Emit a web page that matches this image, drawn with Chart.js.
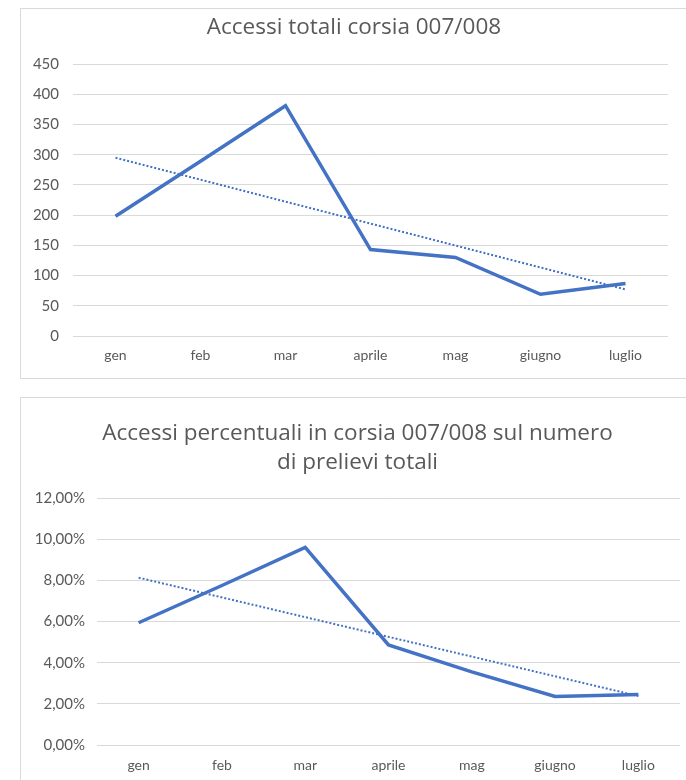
<!DOCTYPE html>
<html>
<head>
<meta charset="utf-8">
<script src="https://cdn.jsdelivr.net/npm/chart.js@4.4.1/dist/chart.umd.min.js"></script>
<style>
    body { margin: 0; background: #fff; width: 686px; height: 780px; overflow: hidden; position: relative; }
    .box { position: absolute; left: 20px; width: 700px; border: 1px solid #d9d9d9; border-right: none; background: #fff; }
    #box1 { top: 8px; height: 369px; }
    #box2 { top: 397px; height: 400px; }
    canvas { position: absolute; left: 0; top: 0; }
</style>
</head>
<body>
<div class="box" id="box1"><canvas id="chart1" width="666" height="369"></canvas></div>
<div class="box" id="box2"><canvas id="chart2" width="673" height="382"></canvas></div>
<script>
// months
const mesi = ['gen', 'feb', 'mar', 'aprile', 'mag', 'giugno', 'luglio'];

// accessi totali corsia 007/008
const accessiTotali = [198, 289, 381, 143, 130, 69, 87];
const trendTotali = [295, null, null, null, null, null, 77];

// accessi percentuali sul numero di prelievi totali (%)
const accessiPerc = [5.94, 7.75, 9.6, 4.86, 3.55, 2.36, 2.45];
const trendPerc = [8.13, null, null, null, null, null, 2.38];

const blu = '#4472C4';
const grigio = '#595959';
const tickFont = 'Lato, "Open Sans", sans-serif';
const titleFont = '"Open Sans", Lato, sans-serif';

function makeChart(id, values, trend, opts) {
    return new Chart(document.getElementById(id).getContext('2d'), {
        type: 'line',
        data: {
            labels: mesi,
            datasets: [{
                data: values,
                borderColor: blu,
                borderWidth: 3.5,
                pointRadius: 0,
                tension: 0,
                fill: false
            }, {
                data: trend,
                borderColor: blu,
                borderWidth: 2,
                borderDash: [2, 2],
                pointRadius: 0,
                spanGaps: true,
                fill: false
            }]
        },
        options: {
            responsive: false,
            animation: false,
            layout: { padding: 0 },
            plugins: {
                legend: { display: false },
                tooltip: { enabled: false },
                title: {
                    display: true,
                    text: opts.title,
                    color: grigio,
                    font: { family: titleFont, size: 22.5, weight: 'normal', lineHeight: opts.titleLH },
                    padding: { top: opts.titleTop, bottom: opts.titleBottom }
                }
            },
            scales: {
                x: {
                    offset: true,
                    grid: { display: false, drawTicks: false },
                    border: { display: false },
                    ticks: { color: grigio, font: { family: tickFont, size: 14 }, padding: opts.xPad, maxRotation: 0 },
                    afterFit: function (scale) { scale.height = opts.xHeight; }
                },
                y: {
                    min: 0,
                    max: opts.max,
                    grid: { color: '#d9d9d9', drawTicks: false },
                    border: { display: false },
                    ticks: {
                        stepSize: opts.step,
                        color: grigio,
                        font: { family: tickFont, size: 15 },
                        padding: opts.yPad,
                        callback: opts.fmt
                    },
                    afterFit: function (scale) { scale.width = opts.yWidth; }
                },
                // empty right axis: keeps a margin right of the plot while the title stays centred on the box
                yRight: {
                    position: 'right',
                    grid: { display: false, drawTicks: false },
                    border: { display: false },
                    ticks: { display: false },
                    afterFit: function (scale) { scale.width = opts.rightWidth; }
                }
            }
        }
    });
}

makeChart('chart1', accessiTotali, trendTotali, {
    title: 'Accessi totali corsia 007/008',
    titleLH: 1.2, titleTop: 5, titleBottom: 23,
    max: 450, step: 50,
    fmt: v => v,
    yWidth: 52, yPad: 14, rightWidth: 19,
    xHeight: 42, xPad: 11
});

makeChart('chart2', accessiPerc, trendPerc, {
    title: ['Accessi percentuali in corsia 007/008 sul numero', 'di prelievi totali'],
    titleLH: 1.29, titleTop: 21, titleBottom: 21,
    max: 12, step: 2,
    fmt: v => v.toFixed(2).replace('.', ',') + '%',
    yWidth: 76, yPad: 12, rightWidth: 14,
    xHeight: 35, xPad: 12
});
</script>
</body>
</html>
